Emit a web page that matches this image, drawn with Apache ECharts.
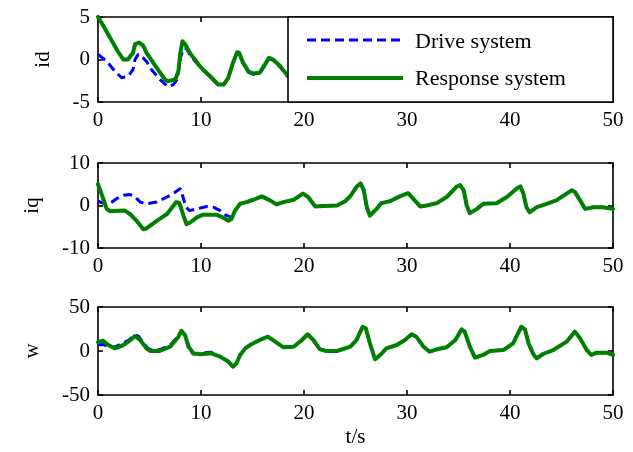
<!DOCTYPE html>
<html>
<head>
<meta charset="utf-8">
<script src="https://cdn.jsdelivr.net/npm/echarts@6/dist/echarts.min.js"></script>
<style>
  html, body { margin: 0; padding: 0; background: #fff; }
  #chart { width: 633px; height: 452px; background: #fff; }
</style>
</head>
<body>
<div id="chart"></div>
<script>
// Time axis ticks (seconds)
const timeTicks = [0, 10, 20, 30, 40, 50];
const legendNames = ['Drive system', 'Response system'];
const panelLabels = ['id', 'iq', 'w'];

// d-axis current, [t, value]
const idDrive = [[0,0.6],[0.84,-0.2],[1.65,-1.4],[2.3,-2.15],[2.95,-1.95],[3.4,-1.2],[3.6,0],[3.9,0.6],[4.2,0.4],[4.7,-0.2],[5.2,-1.2],[6.0,-2.35],[6.8,-3.2],[7.3,-2.95],[7.7,-2.35],[8.0,0.2],[8.3,1.3],[8.6,1.3],[8.9,0.6],[9.9,-0.9],[10.9,-2.1],[11.7,-3.05],[12.2,-3.0],[12.65,-2.2],[13.1,-0.5],[13.5,0.75],[13.7,0.7],[14.1,-0.5],[14.6,-1.5],[15.1,-1.75],[15.7,-1.6],[16.2,-0.7],[16.6,0.1],[17.0,-0.1],[17.7,-0.9],[18.4,-2.0]];
const idResponse = [[0,5],[0.5,4.0],[1.2,2.5],[1.9,1.0],[2.46,0],[2.9,0],[3.4,0.8],[3.6,1.8],[4.0,2.0],[4.4,1.6],[4.7,0.8],[5.6,-0.8],[6.5,-2.35],[6.8,-2.55],[7.5,-2.35],[7.8,-1.4],[8.0,0.8],[8.2,2.15],[8.5,1.75],[8.9,0.8],[9.9,-0.8],[10.9,-2.0],[11.7,-2.95],[12.2,-2.95],[12.65,-2.15],[13.1,-0.4],[13.5,0.85],[13.7,0.8],[14.1,-0.4],[14.6,-1.4],[15.1,-1.65],[15.7,-1.55],[16.2,-0.6],[16.6,0.2],[17.0,0],[17.7,-0.8],[18.4,-1.9]];

// q-axis current, [t, value]
const iqResponse = [[0,5],[0.1,5.2],[0.45,2.0],[0.84,-0.8],[1.15,-1.35],[2.6,-1.2],[3.1,-2.0],[3.75,-3.6],[4.4,-5.6],[4.7,-5.4],[5.7,-3.6],[6.7,-2.0],[7.6,0.8],[7.9,0.6],[8.3,-2.4],[8.6,-4.4],[8.95,-4.0],[9.6,-2.8],[10.2,-2.15],[11.5,-2.15],[12.2,-2.9],[12.65,-3.6],[12.95,-3.2],[13.3,-1.2],[13.8,0.4],[14.4,0.8],[15.1,1.35],[15.9,2.15],[16.7,1.2],[17.35,0.25],[18.0,0.8],[19.0,1.35],[19.9,2.8],[20.4,2.0],[21.1,-0.25],[21.9,-0.1],[23.2,0],[24.0,1.0],[24.5,2.2],[25.1,4.4],[25.5,5.2],[25.8,3.6],[26.1,-0.4],[26.4,-2.4],[27.05,-0.8],[27.5,0.55],[28.35,1.0],[29.3,2.15],[30.1,2.9],[30.6,1.6],[31.3,-0.25],[31.9,0],[32.9,0.55],[33.85,2.0],[34.8,4.4],[35.15,4.8],[35.5,3.6],[35.8,0],[36.1,-1.8],[36.8,-0.8],[37.4,0.4],[38.7,0.55],[39.7,2.0],[40.65,4.0],[41.0,4.5],[41.3,2.8],[41.6,-0.4],[41.9,-1.6],[42.6,-0.4],[43.55,0.4],[44.5,1.2],[45.5,2.8],[46.0,3.6],[46.3,3.2],[46.8,1.2],[47.3,-0.8],[48.1,-0.4],[49.0,-0.4],[50,-0.8]];
const iqDriveEarly = [[0,1.0],[0.7,0.4],[1.15,0.5],[1.8,1.6],[2.5,2.4],[3.1,2.6],[3.6,2.0],[4.1,0.8],[4.7,0.4],[5.7,0.8],[6.7,2.0],[7.3,2.8],[8.0,4.0],[8.2,2.4],[8.55,-0.4],[8.9,-1.2],[9.6,-0.8],[10.55,-0.25],[11.2,-0.4],[11.85,-1.2],[12.5,-2.4],[13.0,-2.8],[13.3,-1.2]];

// rotor speed, [t, value]
const wResponse = [[0,10],[0.5,11.7],[1.0,6.8],[1.65,3.0],[2.3,5.7],[2.95,10.6],[3.6,17],[4.1,12.5],[4.7,3.0],[5.05,0],[6.0,0],[7.0,4.9],[7.8,16],[8.1,23],[8.45,18],[8.8,5],[9.25,-2.6],[9.9,-3.8],[11.0,-2.6],[11.85,-6.4],[12.65,-12],[13.1,-17.8],[13.45,-14],[13.8,-4.5],[14.3,3],[14.75,6.8],[15.7,12.5],[16.5,16.3],[17.2,10.6],[18.0,4.2],[19.0,4.9],[19.8,12.5],[20.35,19],[20.9,12.5],[21.55,1.9],[22.2,0],[23.2,0],[24.5,4.9],[25.1,12.5],[25.7,27.6],[26.0,25.8],[26.4,8.7],[26.9,-9.5],[27.5,-3.4],[28.0,3],[29.0,6.8],[29.8,12.5],[30.45,19],[30.9,16.3],[31.6,4.9],[32.2,-0.8],[32.9,1.9],[33.85,4.2],[34.7,12.5],[35.3,24.6],[35.6,22],[36.1,4.9],[36.6,-7.6],[37.4,-4.5],[38.05,0],[39.35,1.1],[40.3,8.7],[41.1,27.6],[41.45,24.6],[41.8,8.7],[42.3,-4.5],[42.6,-8.3],[43.2,-3.4],[44.2,1.1],[45.5,10.6],[46.3,22],[46.8,14.4],[47.45,1.1],[47.9,-4.5],[48.4,-1.9],[49.4,-1.9],[50,-4.5]];
const wDriveEarly = [[0,7],[0.5,7.5],[1.0,5],[1.65,4.5],[2.3,8.5],[2.95,12],[3.6,18.5],[3.9,17],[4.3,11],[4.8,3.5],[5.1,1.5],[6.0,1.5],[7.0,6.5],[7.8,17],[8.1,23],[8.45,17],[8.8,3],[9.25,-3.5],[9.9,-2.5],[11.0,-1.5]];

// Once synchronised, the drive trace follows the response trace
const iqDrive = iqDriveEarly.concat(iqResponse.filter(p => p[0] >= 13.8));
const wDrive = wDriveEarly.concat(wResponse.filter(p => p[0] >= 11.85));

const FONT = 'Liberation Serif';
const BLUE = '#0000ff';
const GREEN = '#008000';
const DASH = [9, 5];

const grids = [
  { left: 98, top: 17, width: 515, height: 85 },
  { left: 98, top: 163, width: 515, height: 85 },
  { left: 98, top: 307, width: 515, height: 88 }
];
const yRanges = [
  { min: -5, max: 5, interval: 5 },
  { min: -10, max: 10, interval: 10 },
  { min: -50, max: 50, interval: 50 }
];
const nameGaps = [44, 55, 55];

function boxLine() {
  return { show: true, onZero: false, lineStyle: { color: '#000', width: 1.6 } };
}
function innerTick() {
  return { show: true, inside: true, length: 5, lineStyle: { color: '#000', width: 1.6 } };
}
function tickText() {
  return { color: '#000', fontFamily: FONT, fontSize: 21, margin: 8 };
}

const xAxes = [], yAxes = [];
grids.forEach((g, i) => {
  const last = i === grids.length - 1;
  xAxes.push({
    type: 'value', gridIndex: i, min: 0, max: 50, interval: 10, position: 'bottom',
    axisLine: boxLine(), axisTick: innerTick(), axisLabel: tickText(),
    splitLine: { show: false },
    name: last ? 't/s' : '', nameLocation: 'middle', nameGap: 32,
    nameTextStyle: { color: '#000', fontFamily: FONT, fontSize: 21 }
  });
  // top edge of the box, ticks only
  xAxes.push({
    type: 'value', gridIndex: i, min: 0, max: 50, interval: 10, position: 'top',
    axisLine: boxLine(), axisTick: innerTick(),
    axisLabel: { show: false }, splitLine: { show: false }
  });
  yAxes.push({
    type: 'value', gridIndex: i, position: 'left',
    min: yRanges[i].min, max: yRanges[i].max, interval: yRanges[i].interval,
    axisLine: boxLine(), axisTick: innerTick(), axisLabel: tickText(),
    splitLine: { show: false },
    name: panelLabels[i], nameLocation: 'middle', nameGap: nameGaps[i], nameRotate: 90,
    nameTextStyle: { color: '#000', fontFamily: FONT, fontSize: 21 }
  });
  // right edge of the box, ticks only
  yAxes.push({
    type: 'value', gridIndex: i, position: 'right',
    min: yRanges[i].min, max: yRanges[i].max, interval: yRanges[i].interval,
    axisLine: boxLine(), axisTick: innerTick(),
    axisLabel: { show: false }, splitLine: { show: false }
  });
});

function lineSeries(name, data, panel, drive) {
  return {
    name: name, type: 'line', data: data,
    xAxisIndex: panel * 2, yAxisIndex: panel * 2,
    showSymbol: false, symbol: 'none', smooth: false, z: drive ? 2 : 3,
    lineStyle: drive
      ? { color: BLUE, width: 3, type: DASH }
      : { color: GREEN, width: 4, join: 'round', cap: 'round' },
    itemStyle: { color: drive ? BLUE : GREEN },
    emphasis: { disabled: true }
  };
}

// Legend box over the right part of the top panel
const legendGraphic = [
  { type: 'rect', z: 20, shape: { x: 288, y: 17, width: 325, height: 85 },
    style: { fill: '#fff', stroke: '#000', lineWidth: 1.6 } },
  { type: 'line', z: 21, shape: { x1: 307, y1: 40, x2: 403, y2: 40 },
    style: { stroke: BLUE, lineWidth: 3, lineDash: DASH } },
  { type: 'line', z: 21, shape: { x1: 307, y1: 78, x2: 403, y2: 78 },
    style: { stroke: GREEN, lineWidth: 4 } },
  { type: 'text', z: 21, x: 415, y: 42,
    style: { text: legendNames[0], fill: '#000', font: '22px "Liberation Serif"', verticalAlign: 'middle' } },
  { type: 'text', z: 21, x: 415, y: 79,
    style: { text: legendNames[1], fill: '#000', font: '22px "Liberation Serif"', verticalAlign: 'middle' } }
];

const option = {
  animation: false,
  grid: grids,
  xAxis: xAxes,
  yAxis: yAxes,
  graphic: legendGraphic,
  series: [
    lineSeries(legendNames[0], idDrive, 0, true),
    lineSeries(legendNames[1], idResponse, 0, false),
    lineSeries(legendNames[0], iqDrive, 1, true),
    lineSeries(legendNames[1], iqResponse, 1, false),
    lineSeries(legendNames[0], wDrive, 2, true),
    lineSeries(legendNames[1], wResponse, 2, false)
  ]
};

const chart = echarts.init(document.getElementById('chart'), null, { renderer: 'canvas' });
chart.setOption(option);
</script>
</body>
</html>
